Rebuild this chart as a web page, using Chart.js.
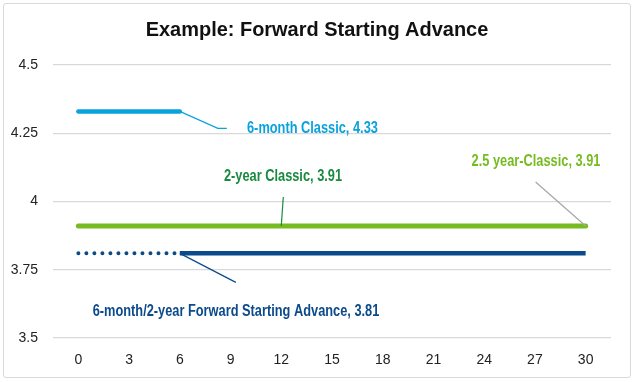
<!DOCTYPE html>
<html><head><meta charset="utf-8">
<script src="https://cdn.jsdelivr.net/npm/chart.js@4"></script>
<style>
html,body{margin:0;padding:0;background:#fff;}
#wrap{position:absolute;left:3px;top:3px;width:628px;height:375px;border:1px solid #d9d9d9;border-radius:3px;box-sizing:border-box;}
canvas{position:absolute;left:0;top:0;}
</style></head><body>
<div id="wrap"></div>
<canvas id="c" width="635" height="382"></canvas>
<script>
const titleText = 'Example: Forward Starting Advance';
const xTicks = [0,3,6,9,12,15,18,21,24,27,30];
const yTicks = [3.5,3.75,4,4.25,4.5];
const sixMonthX = [0,6];
const sixMonthY = [4.33,4.33];
const twoYearX = [0,24];
const twoYearY = [3.91,3.91];
const twoHalfX = [0,30];
const twoHalfY = [3.91,3.91];
const fwdDotX = [0,6];
const fwdDotY = [3.81,3.81];
const fwdX = [6,30];
const fwdY = [3.81,3.81];

const FONT = "'Liberation Sans',Arial,sans-serif";
const pts = (xs,ys)=>xs.map((x,i)=>({x:x,y:ys[i]}));

const labels = [
  {text:'6-month Classic, 4.33', color:'#0aa2dd', ax:6, ay:4.33, path:[[38,17],[47,17]], lx:247, ly:129, align:'left', lineColor:'#0aa2dd'},
  {text:'2-year Classic, 3.91', color:'#1a8a40', ax:12, ay:3.91, path:[[2,-29]], lx:283, ly:177, align:'center', lineColor:'#1a8a40'},
  {text:'2.5 year-Classic, 3.91', color:'#76bc21', ax:30, ay:3.91, path:[[-50,-44]], lx:536, ly:162, align:'center', lineColor:'#a6a6a6'},
  {text:'6-month/2-year Forward Starting Advance, 3.81', color:'#0b4a8b', ax:6, ay:3.81, path:[[56,29]], lx:236, ly:312, align:'center', lineColor:'#0b4a8b'}
];
const SQUEEZE = 0.8;

function squeezedText(ctx, text, x, y, font, color, align, sq){
  ctx.save();
  ctx.translate(x, y);
  ctx.scale(sq, 1);
  ctx.fillStyle = color;
  ctx.font = font;
  ctx.textAlign = align; ctx.textBaseline = 'middle';
  ctx.fillText(text, 0, 0);
  ctx.restore();
}

const annot = {
  id:'annot',
  afterDatasetsDraw(chart){
    const ctx = chart.ctx, xs = chart.scales.x, ys = chart.scales.y;
    ctx.save();
    squeezedText(ctx, titleText, 317, 30, "bold 21px " + FONT, '#111', 'center', 0.95);
    labels.forEach(l=>{
      const px = xs.getPixelForValue(l.ax), py = ys.getPixelForValue(l.ay);
      ctx.strokeStyle = l.lineColor; ctx.lineWidth = 1.2;
      ctx.beginPath(); ctx.moveTo(px,py);
      l.path.forEach(p=>ctx.lineTo(px+p[0],py+p[1]));
      ctx.stroke();
      squeezedText(ctx, l.text, l.lx, l.ly, "bold 16px " + FONT, l.color, l.align, SQUEEZE);
    });
    ctx.restore();
  }
};

new Chart(document.getElementById('c'), {
  type:'line',
  data:{datasets:[
    {data:pts(twoHalfX,twoHalfY), borderColor:'#76bc21', borderWidth:5, borderCapStyle:'round'},
    {data:pts(twoYearX,twoYearY), borderColor:'#1a8a40', borderWidth:2},
    {data:pts(sixMonthX,sixMonthY), borderColor:'#0aa2dd', borderWidth:4.5, borderCapStyle:'round'},
    {data:pts(fwdDotX,fwdDotY), borderColor:'#0b4a8b', borderWidth:4, borderCapStyle:'round', borderDash:[0.01,8]},
    {data:pts(fwdX,fwdY), borderColor:'#0b4a8b', borderWidth:4.5}
  ]},
  options:{
    responsive:false, animation:false,
    layout:{padding:{left:3,right:24,top:65,bottom:5}},
    elements:{point:{radius:0}, line:{tension:0}},
    plugins:{
      legend:{display:false}, tooltip:{enabled:false}, title:{display:false}
    },
    scales:{
      x:{type:'linear', min:-1.5, max:31.5,
        afterBuildTicks(s){ s.ticks = xTicks.map(v=>({value:v})); },
        afterFit(s){ s.height = 39; },
        grid:{display:false}, border:{display:false},
        ticks:{color:'#222', font:{family:FONT,size:14}, padding:6, maxRotation:0}
      },
      y:{type:'linear', min:3.5, max:4.5,
        afterBuildTicks(s){ s.ticks = yTicks.map(v=>({value:v})); },
        afterFit(s){ s.width = 50; },
        grid:{color:'#d9d9d9', drawTicks:false, lineWidth:1.2}, border:{display:false},
        ticks:{color:'#222', font:{family:FONT,size:14}, padding:15, callback:v=>String(v)}
      }
    }
  },
  plugins:[annot]
});
</script>
</body></html>
